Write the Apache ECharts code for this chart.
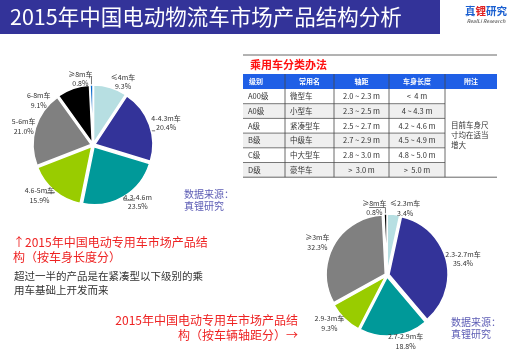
<!DOCTYPE html>
<html><head><meta charset="utf-8">
<script src="https://cdn.jsdelivr.net/npm/echarts@6/dist/echarts.min.js"></script>
<style>html,body{margin:0;padding:0;background:#fff}#c{width:518px;height:360px}</style>
</head><body><div id="c"></div>
<script>
// ---- data ----
const cats1 = ['≤4m车','4-4.3m车','4.3-4.6m','4.6-5m车','5-6m车','6-8m车','≥8m车'];
const vals1 = [9.3, 20.4, 23.5, 15.9, 21.0, 9.1, 0.8];
const cats2 = ['≤2.3m车','2.3-2.7m车','2.7-2.9m车','2.9-3m车','≥3m车','≥8m车'];
const vals2 = [3.4, 35.4, 18.8, 9.3, 32.3, 0.8];
const tableHeader = ['级别','常用名','轴距','车身长度','附注'];
const tableLevels = ['A00级','A0级','A级','B级','C级','D级'];
const tableNames = ['微型车','小型车','紧凑型车','中级车','中大型车','豪华车'];
const tableWheelbase = ['2.0 ~ 2.3 m','2.3 ~ 2.5 m','2.5 ~ 2.7 m','2.7 ~ 2.9 m','2.8 ~ 3.0 m','>  3.0 m'];
const tableLength = ['<  4 m','4 ~ 4.3 m','4.2 ~ 4.6 m','4.5 ~ 4.9 m','4.8 ~ 5.0 m','>  5.0 m'];
const tableNote = '目前车身尺\n寸均在适当\n增大';

// ---- layout ----
const FONT = '"Noto Sans CJK SC","Noto Sans",sans-serif';
const colors1 = ['#b7dfe2','#333399','#009999','#99cc00','#808080','#000000','#0066cc'];
const colors2 = ['#b7dfe2','#333399','#009999','#99cc00','#808080','#000000'];
const lblPos1 = [[122,79],[170,140],[150,207],[30,200],[22,135],[58,77],[93,67]];
const lblPos2 = [[405,207],[465,275],[410,349],[325,326],[325,249],[355,201]];

function clamp(v, a, b) { return Math.max(a, Math.min(b, v)); }

function pieSeries(cats, vals, colors, pos, center, r) {
  return {
    type: 'pie', center: center, radius: r, startAngle: 90, clockwise: true,
    selectedMode: 'multiple', selectedOffset: 2,
    animation: true, animationDuration: 0, animationDurationUpdate: 0, animationDelay: 0,
    data: cats.map((c, i) => ({name: c, value: vals[i], selected: true,
      itemStyle: {color: colors[i]}})),
    itemStyle: {borderColor: '#fff', borderWidth: 1.5},
    label: {show: true, formatter: p => p.name + '\n' + p.value.toFixed(1) + '%',
      fontSize: 7, lineHeight: 9.5, color: '#333', fontFamily: FONT, align: 'center',
      overflow: 'none'},
    labelLine: {show: true, length: 6, length2: 6, lineStyle: {color: '#555', width: 0.8}},
    labelLayout: function (params) {
      const p = pos[params.dataIndex];
      const w = params.labelRect.width, h = params.labelRect.height;
      const res = {x: p[0], y: p[1], align: 'center', verticalAlign: 'middle'};
      const pts = params.labelLinePoints;
      if (pts && pts.length) {
        const p0 = pts[0];
        const gap = 2;
        const l = p[0] - w/2 - gap, rr = p[0] + w/2 + gap, t = p[1] - h/2 - gap, b = p[1] + h/2 + gap;
        const dx = p0[0] < l ? l - p0[0] : (p0[0] > rr ? p0[0] - rr : 0);
        const dy = p0[1] < t ? t - p0[1] : (p0[1] > b ? p0[1] - b : 0);
        let p1, p2;
        if (Math.max(dx, dy) < 4) { p1 = p0; p2 = p0; }
        else if (dx >= dy) {
          p2 = [p0[0] < l ? l : rr, clamp(p0[1], t + 3, b - 3)];
          p1 = [p0[0], p2[1]];
        } else {
          p2 = [clamp(p0[0], l + 3, rr - 3), p0[1] < t ? t : b];
          p1 = [p2[0], p0[1]];
        }
        res.labelLinePoints = [p0, p1, p2];
      }
      return res;
    },
    emphasis: {disabled: true}
  };
}

// table graphics
const g = [];
g.push({type:'rect', shape:{x:0,y:0,width:440,height:34}, style:{fill:'#333399'}});
g.push({type:'text', x:10, y:17, style:{text:'2015年中国电动物流车市场产品结构分析', fill:'#fff', font:'21.5px '+FONT, verticalAlign:'middle'}});
g.push({type:'text', x:486, y:11, style:{rich:{a:{fill:'#1a5fd0',font:'bold 10.5px '+FONT},b:{fill:'#e02020',font:'bold 10.5px '+FONT}}, text:'{a|真}{b|锂}{a|研究}', align:'center', verticalAlign:'middle'}});
g.push({type:'text', x:486, y:21, style:{text:'RealLi Research', fill:'#777', font:'italic bold 5px '+FONT, align:'center', verticalAlign:'middle'}});

const cols = [243, 285, 334, 389, 445, 497];
const headTop = 74, headH = 15, rowH = 14.7;
g.push({type:'line', shape:{x1:243,y1:55,x2:497,y2:55}, style:{stroke:'#666',lineWidth:1}});
g.push({type:'text', x:250, y:65, style:{text:'乘用车分类办法', fill:'#ff1010', font:'bold 11px '+FONT, verticalAlign:'middle'}});
g.push({type:'rect', shape:{x:243,y:headTop,width:254,height:headH}, style:{fill:'#1f5fe6'}});
tableHeader.forEach((h,i)=>{
  const cx = i===0 ? cols[0]+6 : (cols[i]+cols[i+1])/2;
  g.push({type:'text', x:cx, y:headTop+headH/2, style:{text:h, fill:'#fff', font:'bold 7px '+FONT, align:i===0?'left':'center', verticalAlign:'middle'}});
});
const bodyTop = headTop + headH;
for (let r = 0; r < 6; r++) {
  const y = bodyTop + r*rowH;
  g.push({type:'rect', shape:{x:cols[0],y:y,width:cols[4]-cols[0],height:rowH}, style:{fill: r%2 ? '#efefef' : '#fff'}});
  const cy = y + rowH/2;
  g.push({type:'text', x:cols[0]+5, y:cy, style:{text:tableLevels[r], fill:'#333', font:'7.5px '+FONT, verticalAlign:'middle'}});
  g.push({type:'text', x:cols[1]+5, y:cy, style:{text:tableNames[r], fill:'#333', font:'7.5px '+FONT, verticalAlign:'middle'}});
  g.push({type:'text', x:(cols[2]+cols[3])/2, y:cy, style:{text:tableWheelbase[r], fill:'#333', font:'7.5px '+FONT, align:'center', verticalAlign:'middle'}});
  g.push({type:'text', x:(cols[3]+cols[4])/2, y:cy, style:{text:tableLength[r], fill:'#333', font:'7.5px '+FONT, align:'center', verticalAlign:'middle'}});
  if (r > 0) g.push({type:'line', shape:{x1:cols[0],y1:y,x2:cols[4],y2:y}, style:{stroke:'#555',lineWidth:0.8}});
}
const bodyBot = bodyTop + 6*rowH;
g.push({type:'line', shape:{x1:243,y1:bodyBot,x2:497,y2:bodyBot}, style:{stroke:'#666',lineWidth:1}});
for (let i = 1; i < 5; i++) g.push({type:'line', shape:{x1:cols[i],y1:headTop,x2:cols[i],y2:bodyBot}, style:{stroke:'#444',lineWidth:0.8}});
g.push({type:'text', x:451, y:(bodyTop+bodyBot)/2+2, style:{text:tableNote, fill:'#333', font:'7.5px '+FONT, lineHeight:10, verticalAlign:'middle'}});

// annotation texts
g.push({type:'text', x:184, y:200, style:{text:'数据来源：\n真锂研究', fill:'#5d5db5', font:'10px '+FONT, lineHeight:12, verticalAlign:'middle'}});
g.push({type:'text', x:451, y:328, style:{text:'数据来源：\n真锂研究', fill:'#5d5db5', font:'10px '+FONT, lineHeight:12, verticalAlign:'middle'}});
g.push({type:'text', x:13, y:250, style:{text:'↑2015年中国电动专用车市场产品结\n构（按车身长度分）', fill:'#ee2222', font:'12px '+FONT, lineHeight:15.5, verticalAlign:'middle'}});
g.push({type:'text', x:14, y:283, style:{text:'超过一半的产品是在紧凑型以下级别的乘\n用车基础上开发而来', fill:'#333', font:'10.5px '+FONT, lineHeight:14, verticalAlign:'middle'}});
g.push({type:'text', x:298, y:328, style:{text:'2015年中国电动专用车市场产品结\n构（按车辆轴距分）→', fill:'#ee2222', font:'12px '+FONT, lineHeight:15.5, align:'right', verticalAlign:'middle'}});

const chart = echarts.init(document.getElementById('c'), null, {renderer:'canvas'});
chart.setOption({
  animation: true,
  animationDuration: 0,
  graphic: g,
  series: [
    pieSeries(cats1, vals1, colors1, lblPos1, [93,145], 58),
    pieSeries(cats2, vals2, colors2, lblPos2, [387,275], 59)
  ]
});
</script></body></html>
